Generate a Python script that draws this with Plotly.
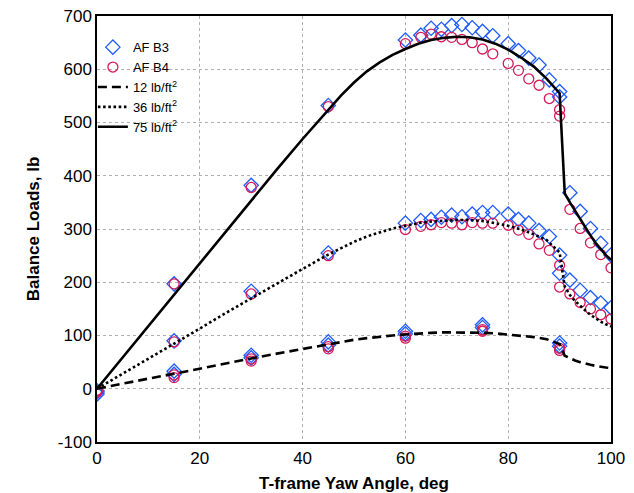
import plotly.graph_objects as go

# ---- data ----
# theory curves
x_line = [0, 5, 10, 15, 20, 25, 30, 35, 40, 45, 47.5, 50, 52.5, 55, 57.5, 60, 62.5, 65, 67.5, 70,
          72.5, 75, 77.5, 80, 82.5, 85, 87.5, 90, 91, 92, 93, 94, 95, 96, 97, 98, 99, 100]
q12_line = [0, 10, 19, 28, 38, 47, 57, 66, 75, 84, 88, 92, 95, 98, 100, 102, 104, 105, 106, 106,
            106, 105, 104, 102, 100, 97, 93, 84, 62, 57, 53, 50, 47, 45, 43, 41, 40, 39]
q36_line = [0, 28, 57, 85, 113, 142, 170, 198, 225, 252, 264, 276, 286, 294, 301, 306, 311, 314, 316, 317,
            317, 315, 311, 306, 299, 290, 279, 256, 192, 176, 165, 155, 147, 139, 132, 126, 121, 117]
q75_line = [0, 59, 118, 177, 236, 295, 354, 412, 469, 525, 551, 575, 596, 613, 627, 638, 648, 655, 659, 661,
            660, 656, 648, 637, 622, 605, 582, 555, 367, 350, 334, 318, 303, 288, 274, 262, 251, 242]

# measured points, AF B3
b3_x_hi = [0, 15, 30, 45, 60, 63, 65, 67, 69, 71, 73, 75, 77, 80, 82, 84, 86, 88, 90, 90, 92, 94, 96, 98, 100]
b3_y_hi = [-10, 197, 382, 532, 655, 664, 677, 675, 682, 684, 678, 671, 663, 648, 635, 621, 608, 580, 558, 548, 368, 333, 301, 273, 251]
b3_x_mid = [0, 15, 30, 45, 60, 63, 65, 67, 69, 71, 73, 75, 77, 80, 82, 84, 86, 88, 90, 90, 92, 94, 96, 98, 100]
b3_y_mid = [-6, 90, 183, 255, 311, 316, 318, 322, 326, 323, 328, 331, 331, 328, 318, 311, 297, 286, 251, 217, 204, 185, 171, 161, 152]
b3_x_lo = [0, 15, 15, 30, 30, 45, 45, 60, 60, 75, 75, 90, 90]
b3_y_lo = [-4, 33, 27, 63, 58, 88, 82, 108, 103, 120, 115, 86, 80]

# measured points, AF B4
b4_x_hi = [0, 15, 30, 45, 60, 63, 65, 67, 69, 71, 73, 75, 77, 80, 82, 84, 86, 88, 90, 90, 92, 94, 96, 98, 100]
b4_y_hi = [-3, 197, 378, 530, 648, 660, 666, 661, 660, 656, 650, 638, 629, 611, 598, 582, 570, 545, 524, 512, 337, 301, 274, 252, 227]
b4_x_mid = [0, 15, 30, 45, 60, 63, 65, 67, 69, 71, 73, 75, 77, 80, 82, 84, 86, 88, 90, 90, 92, 94, 96, 98, 100]
b4_y_mid = [-3, 88, 178, 250, 299, 305, 308, 312, 311, 308, 312, 311, 311, 307, 298, 290, 272, 260, 232, 191, 178, 162, 150, 139, 131]
b4_x_lo = [0, 15, 15, 30, 30, 45, 45, 60, 60, 75, 75, 90, 90]
b4_y_lo = [-6, 26, 21, 56, 52, 79, 75, 99, 95, 111, 108, 76, 72]

x_ticks = [0, 20, 40, 60, 80, 100]
y_ticks = [-100, 0, 100, 200, 300, 400, 500, 600, 700]

blue = "#1f5cff"
red = "#d41a5a"

fig = go.Figure()

b3_x = b3_x_hi + b3_x_mid + b3_x_lo
b3_y = b3_y_hi + b3_y_mid + b3_y_lo
b4_x = b4_x_hi + b4_x_mid + b4_x_lo
b4_y = b4_y_hi + b4_y_mid + b4_y_lo

fig.add_trace(go.Scatter(x=b3_x, y=b3_y, mode="markers", name="AF B3",
                         marker=dict(symbol="diamond-open", size=11, color=blue, line=dict(width=1.3, color=blue))))
fig.add_trace(go.Scatter(x=b4_x, y=b4_y, mode="markers", name="AF B4",
                         marker=dict(symbol="circle-open", size=10, color=red, line=dict(width=1.3, color=red))))
fig.add_trace(go.Scatter(x=x_line, y=q12_line, mode="lines", name="12 lb/ft<sup>2</sup>",
                         line=dict(color="black", width=2.6, dash="9px,5px")))
fig.add_trace(go.Scatter(x=x_line, y=q36_line, mode="lines", name="36 lb/ft<sup>2</sup>",
                         line=dict(color="black", width=2.6, dash="2.6px,2.6px")))
fig.add_trace(go.Scatter(x=x_line, y=q75_line, mode="lines", name="75 lb/ft<sup>2</sup>",
                         line=dict(color="black", width=2.6)))

font_family = "Liberation Sans, Arial, Helvetica, sans-serif"

fig.update_layout(
    width=634, height=493,
    margin=dict(l=97, r=23, t=16, b=51),
    paper_bgcolor="white", plot_bgcolor="white",
    font=dict(family=font_family, size=16, color="black"),
    showlegend=True,
    legend=dict(x=-0.008, y=0.962, xanchor="left", yanchor="top",
                bgcolor="rgba(0,0,0,0)", font=dict(size=13), tracegroupgap=0,
                itemwidth=30),
)
fig.update_xaxes(
    range=[0, 100], tickvals=x_ticks, ticktext=[str(v) for v in x_ticks],
    showgrid=True, gridcolor="#b0b0b0", griddash="dot", gridwidth=1,
    showline=True, linecolor="black", linewidth=1.5, mirror=True,
    ticks="", zeroline=False, automargin=False,
    title=dict(text="<b>T-frame Yaw Angle, deg</b>", font=dict(size=17), standoff=12),
    tickfont=dict(size=17),
)
fig.update_yaxes(
    range=[-100, 700], tickvals=y_ticks, ticktext=[str(v) for v in y_ticks],
    showgrid=True, gridcolor="#b0b0b0", griddash="dot", gridwidth=1,
    showline=True, linecolor="black", linewidth=1.5, mirror=True,
    ticks="", zeroline=False, automargin=False,
    title=dict(text="<b>Balance Loads, lb</b>", font=dict(size=17), standoff=14),
    tickfont=dict(size=17),
)

fig.write_html("out.html")
